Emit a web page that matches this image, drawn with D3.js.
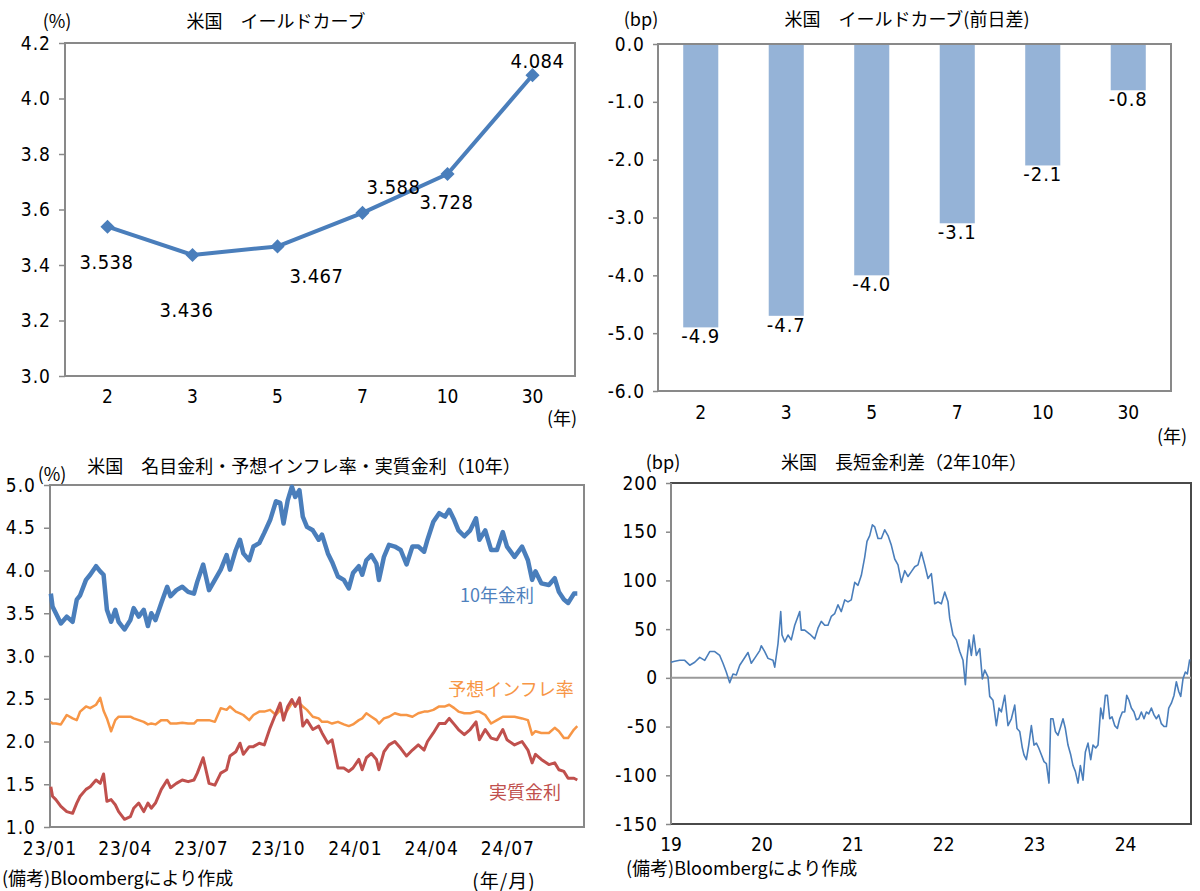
<!DOCTYPE html>
<html>
<head>
<meta charset="utf-8">
<script src="https://cdn.jsdelivr.net/npm/d3@7"></script>
<style>
  body { margin: 0; background: #fff; }
</style>
</head>
<body>
<svg id="canvas"></svg>
<script>
/* ---------- data ---------- */
const maturities = ["2", "3", "5", "7", "10", "30"];
const yields = [3.538, 3.436, 3.467, 3.588, 3.728, 4.084];
const dailyChange = [-4.9, -4.7, -4.0, -3.1, -2.1, -0.8];
const yieldTicks = [3.0, 3.2, 3.4, 3.6, 3.8, 4.0, 4.2];
const changeTicks = [0, -1, -2, -3, -4, -5, -6];

const rateDates = [
  "2023-01-02","2023-01-04","2023-01-08","2023-01-14","2023-01-21","2023-01-28","2023-02-02","2023-02-06",
  "2023-02-13","2023-02-18","2023-02-25","2023-03-02","2023-03-06","2023-03-10","2023-03-15","2023-03-20",
  "2023-03-24","2023-03-31","2023-04-07","2023-04-11","2023-04-17","2023-04-23","2023-04-28","2023-05-02",
  "2023-05-07","2023-05-14","2023-05-21","2023-05-25","2023-06-01","2023-06-08","2023-06-15","2023-06-22",
  "2023-06-26","2023-07-03","2023-07-10","2023-07-17","2023-07-24","2023-07-31","2023-08-04","2023-08-11",
  "2023-08-16","2023-08-20","2023-08-27","2023-09-01","2023-09-08","2023-09-14","2023-09-21","2023-09-28",
  "2023-10-03","2023-10-07","2023-10-12","2023-10-17","2023-10-21","2023-10-26","2023-10-30","2023-11-04",
  "2023-11-11","2023-11-18","2023-11-22","2023-11-29","2023-12-04","2023-12-11","2023-12-18","2023-12-24",
  "2023-12-29","2024-01-05","2024-01-09","2024-01-14","2024-01-20","2024-01-26","2024-01-29","2024-02-04",
  "2024-02-10","2024-02-17","2024-02-24","2024-03-02","2024-03-09","2024-03-16","2024-03-23","2024-03-27",
  "2024-04-03","2024-04-10","2024-04-17","2024-04-22","2024-04-28","2024-05-03","2024-05-10","2024-05-17",
  "2024-05-24","2024-05-28","2024-06-04","2024-06-11","2024-06-18","2024-06-25","2024-06-30","2024-07-09",
  "2024-07-18","2024-07-25","2024-07-30","2024-08-03","2024-08-10","2024-08-19","2024-08-26","2024-08-31",
  "2024-09-06","2024-09-11","2024-09-18","2024-09-22"
];
const nominal10y = [
  3.73,3.58,3.50,3.38,3.46,3.40,3.66,3.71,3.89,3.95,4.05,3.99,3.95,3.54,3.40,3.54,
  3.40,3.31,3.42,3.56,3.46,3.54,3.35,3.50,3.42,3.62,3.81,3.70,3.77,3.81,3.75,3.73,
  3.87,4.07,3.77,3.89,4.01,4.18,4.01,4.24,4.36,4.20,4.12,4.28,4.32,4.44,4.59,4.81,
  4.79,4.55,4.82,4.98,4.86,4.94,4.63,4.51,4.47,4.36,4.42,4.20,4.10,3.93,3.89,3.79,
  3.97,4.05,3.95,4.12,4.18,4.08,3.89,4.16,4.30,4.28,4.24,4.07,4.28,4.28,4.22,4.36,
  4.57,4.67,4.63,4.71,4.59,4.47,4.40,4.47,4.61,4.36,4.47,4.24,4.24,4.45,4.28,4.16,
  4.28,4.12,3.89,3.99,3.85,3.83,3.91,3.75,3.66,3.62,3.73,3.73
];
const breakeven10y = [
  2.23,2.21,2.21,2.20,2.31,2.27,2.25,2.35,2.41,2.39,2.43,2.51,2.36,2.27,2.12,2.25,
  2.29,2.29,2.29,2.27,2.25,2.23,2.20,2.21,2.20,2.25,2.25,2.21,2.21,2.22,2.21,2.21,
  2.25,2.25,2.25,2.23,2.39,2.37,2.41,2.35,2.33,2.31,2.25,2.31,2.35,2.35,2.37,2.31,
  2.37,2.31,2.37,2.45,2.43,2.45,2.41,2.37,2.29,2.27,2.23,2.23,2.21,2.23,2.20,2.18,
  2.20,2.25,2.27,2.33,2.29,2.25,2.21,2.27,2.29,2.33,2.31,2.31,2.29,2.33,2.35,2.35,
  2.37,2.41,2.41,2.43,2.39,2.35,2.33,2.33,2.35,2.35,2.31,2.21,2.25,2.29,2.29,2.29,
  2.27,2.25,2.08,2.12,2.10,2.10,2.16,2.12,2.04,2.04,2.14,2.18
];
const real10y = [
  1.47,1.36,1.32,1.24,1.18,1.16,1.28,1.36,1.44,1.47,1.55,1.51,1.62,1.30,1.32,1.26,
  1.18,1.09,1.12,1.22,1.28,1.18,1.28,1.22,1.28,1.44,1.55,1.46,1.51,1.55,1.53,1.55,
  1.63,1.81,1.51,1.49,1.63,1.67,1.83,1.88,1.98,1.85,1.94,1.94,1.98,1.96,2.16,2.33,
  2.45,2.25,2.41,2.49,2.41,2.51,2.18,2.25,2.14,2.18,2.10,1.98,2.02,1.69,1.69,1.65,
  1.69,1.79,1.67,1.81,1.86,1.79,1.67,1.88,1.96,2.00,1.92,1.83,1.90,1.96,1.90,2.00,
  2.10,2.21,2.21,2.27,2.20,2.14,2.08,2.14,2.23,2.02,2.14,2.04,2.02,2.14,2.02,1.96,
  2.00,1.90,1.75,1.85,1.79,1.73,1.75,1.67,1.65,1.57,1.57,1.55
];
const rateTicks = [1.0, 1.5, 2.0, 2.5, 3.0, 3.5, 4.0, 4.5, 5.0];

const spreadYears = [
  2019.000,2019.041,2019.096,2019.151,2019.206,2019.261,2019.316,2019.371,2019.426,2019.481,
  2019.536,2019.572,2019.608,2019.646,2019.682,2019.718,2019.756,2019.792,2019.847,2019.883,
  2019.927,2019.976,2019.993,2020.031,2020.067,2020.122,2020.141,2020.177,2020.207,2020.221,
  2020.251,2020.287,2020.323,2020.361,2020.416,2020.433,2020.471,2020.526,2020.581,2020.617,
  2020.653,2020.691,2020.727,2020.763,2020.801,2020.837,2020.873,2020.911,2020.947,2020.983,
  2021.021,2021.057,2021.093,2021.131,2021.156,2021.186,2021.215,2021.241,2021.277,2021.314,
  2021.351,2021.387,2021.424,2021.461,2021.497,2021.534,2021.571,2021.607,2021.644,2021.681,
  2021.717,2021.754,2021.791,2021.827,2021.864,2021.901,2021.937,2021.974,2022.011,2022.047,
  2022.066,2022.102,2022.139,2022.176,2022.212,2022.238,2022.256,2022.278,2022.304,2022.330,
  2022.359,2022.396,2022.425,2022.451,2022.487,2022.506,2022.542,2022.579,2022.608,2022.634,
  2022.671,2022.707,2022.744,2022.781,2022.806,2022.836,2022.865,2022.883,2022.909,2022.935,
  2022.964,2022.993,2023.019,2023.045,2023.074,2023.103,2023.129,2023.158,2023.177,2023.202,
  2023.228,2023.257,2023.287,2023.312,2023.338,2023.367,2023.397,2023.422,2023.448,2023.477,
  2023.503,2023.532,2023.558,2023.587,2023.617,2023.642,2023.672,2023.697,2023.727,2023.752,
  2023.778,2023.800,2023.826,2023.851,2023.881,2023.910,2023.936,2023.965,2023.991,2024.013,
  2024.038,2024.064,2024.093,2024.119,2024.145,2024.174,2024.203,2024.229,2024.255,2024.284,
  2024.313,2024.339,2024.365,2024.394,2024.423,2024.449,2024.475,2024.504,2024.533,2024.559,
  2024.585,2024.607,2024.632,2024.658,2024.680,2024.706
];
const spreadBp = [
  16,17,18,18,13,16,21,18,27,27,
  23,15,6,-5,4,3,13,18,26,15,
  21,28,33,27,20,18,11,35,68,44,
  37,44,39,54,68,49,49,45,40,51,
  58,54,54,63,66,75,68,80,78,80,
  98,95,105,124,140,146,157,155,143,143,
  152,146,136,122,116,98,110,104,109,114,
  116,129,116,102,107,76,78,76,88,78,
  61,44,39,27,18,-7,20,39,23,44,
  23,30,-1,8,1,-19,-23,-49,-31,-35,
  -18,-49,-42,-28,-52,-55,-72,-79,-84,-69,
  -49,-69,-67,-72,-79,-86,-88,-108,-42,-42,
  -55,-59,-50,-42,-52,-69,-79,-90,-96,-108,
  -90,-105,-76,-67,-84,-69,-72,-69,-31,-42,
  -18,-18,-42,-40,-49,-52,-42,-35,-35,-18,
  -23,-31,-35,-43,-42,-35,-42,-35,-37,-31,
  -38,-42,-38,-47,-50,-50,-31,-26,-18,-4,
  -14,-19,-1,6,4,19
];
const spreadTicks = [200, 150, 100, 50, 0, -50, -100, -150];
const spreadYearTicks = [2019, 2020, 2021, 2022, 2023, 2024];

/* ---------- setup ---------- */
const width = 1200, height = 891;
const axisGray = "#898989";
const numFont = "'Liberation Sans Narrow','DejaVu Sans Condensed',sans-serif";
const jpFont = "'Noto Sans CJK JP','Noto Sans',sans-serif";
const parseDate = d3.timeParse("%Y-%m-%d");

const svg = d3.select("#canvas")
    .attr("width", width)
    .attr("height", height)
    .style("background-color", "#fff");

function text(g, x, y, str, o = {}) {
  return g.append("text")
      .attr("x", x).attr("y", y)
      .attr("text-anchor", o.anchor || "middle")
      .attr("dominant-baseline", "central")
      .attr("font-family", o.font || jpFont)
      .attr("font-size", o.size || 18)
      .attr("letter-spacing", o.ls || 0)
      .attr("fill", o.color || "#000")
      .text(str);
}

function frame(g, p, color, w) {
  g.append("rect")
      .attr("x", p.l).attr("y", p.t)
      .attr("width", p.r - p.l).attr("height", p.b - p.t)
      .attr("fill", "none")
      .attr("stroke", color)
      .attr("stroke-width", w);
}

function leftAxis(g, scale, ticks, fmt, x, tick) {
  g.append("g")
      .attr("transform", `translate(${x},0)`)
      .call(d3.axisLeft(scale).tickValues(ticks).tickFormat(fmt).tickSize(tick).tickPadding(8))
      .call(a => a.select(".domain").remove())
      .call(a => a.selectAll("line").attr("stroke", axisGray).attr("stroke-width", 1.5))
      .call(a => a.selectAll("text")
          .attr("font-family", numFont)
          .attr("font-size", 19)
          .attr("letter-spacing", 1)
          .attr("fill", "#000"));
}

const fmt1 = d => d.toFixed(1);

/* ---------- chart 1 : yield curve ---------- */
const p1 = {l: 65, r: 575, t: 43, b: 376};
const g1 = svg.append("g");
const x1 = d3.scalePoint().domain(maturities).range([p1.l, p1.r]).padding(0.5);
const y1 = d3.scaleLinear().domain([3.0, 4.2]).range([p1.b, p1.t]);
const curve = maturities.map((m, i) => ({m, v: yields[i]}));
const labelNudge = [[-1, 35], [-6, 55], [39, 30], [31, -26], [-1, 28], [5, -14]];

frame(g1, p1, axisGray, 2);
leftAxis(g1, y1, yieldTicks, fmt1, p1.l, 6);

g1.append("path")
    .datum(curve)
    .attr("d", d3.line().x(d => x1(d.m)).y(d => y1(d.v)))
    .attr("fill", "none")
    .attr("stroke", "#4A7EBB")
    .attr("stroke-width", 4)
    .attr("stroke-linejoin", "round");

g1.selectAll("path.mark")
    .data(curve)
    .enter()
    .append("path")
    .classed("mark", true)
    .attr("d", d3.symbol(d3.symbolSquare, 100))
    .attr("transform", d => `translate(${x1(d.m)},${y1(d.v)}) rotate(45)`)
    .attr("fill", "#4A7EBB");

curve.forEach((d, i) =>
  text(g1, x1(d.m) + labelNudge[i][0], y1(d.v) + labelNudge[i][1], d.v.toFixed(3),
       {font: numFont, size: 20, ls: 0.5}));

maturities.forEach(m => text(g1, x1(m), 396, m, {font: numFont, size: 19}));
text(g1, 276, 20, "米国　イールドカーブ");
text(g1, 57, 20, "(%)");
text(g1, 562, 417, "(年)");

/* ---------- chart 2 : daily change ---------- */
const p2 = {l: 658, r: 1171, t: 44, b: 391};
const g2 = svg.append("g");
const x2 = d3.scaleBand().domain(maturities).range([p2.l, p2.r]).paddingInner(0.59).paddingOuter(0.295);
const y2 = d3.scaleLinear().domain([-6, 0]).range([p2.b, p2.t]);
const bars = maturities.map((m, i) => ({m, v: dailyChange[i]}));

g2.selectAll("rect.bar")
    .data(bars)
    .enter()
    .append("rect")
    .classed("bar", true)
    .attr("x", d => x2(d.m))
    .attr("y", y2(0))
    .attr("width", x2.bandwidth())
    .attr("height", d => y2(d.v) - y2(0))
    .attr("fill", "#95B3D7");

frame(g2, p2, axisGray, 2);
leftAxis(g2, y2, changeTicks, fmt1, p2.l, 5);

bars.forEach(d =>
  text(g2, x2(d.m) + x2.bandwidth() / 2, y2(d.v) + 9, d.v.toFixed(1),
       {font: numFont, size: 20, ls: 1}));

maturities.forEach(m => text(g2, x2(m) + x2.bandwidth() / 2, 412, m, {font: numFont, size: 19}));
text(g2, 907, 18, "米国　イールドカーブ(前日差)");
text(g2, 641, 18, "(bp)");
text(g2, 1172, 435, "(年)");

/* ---------- chart 3 : nominal / breakeven / real ---------- */
const p3 = {l: 50, r: 584, t: 485, b: 827};
const g3 = svg.append("g");
const x3 = d3.scaleTime().domain([parseDate("2023-01-01"), parseDate("2024-09-30")]).range([p3.l, p3.r]);
const y3 = d3.scaleLinear().domain([1.0, 5.0]).range([p3.b, p3.t]);
const rows = rateDates.map((d, i) => ({
  date: parseDate(d), nom: nominal10y[i], bei: breakeven10y[i], real: real10y[i]
}));

frame(g3, p3, axisGray, 2);
leftAxis(g3, y3, rateTicks, fmt1, p3.l, 6);

const series3 = [
  {key: "bei", color: "#F79646", w: 2.5},
  {key: "real", color: "#C0504D", w: 3},
  {key: "nom", color: "#4A7EBB", w: 4.5}
];
series3.forEach(s => {
  g3.append("path")
      .datum(rows)
      .attr("d", d3.line().x(d => x3(d.date)).y(d => y3(d[s.key])))
      .attr("fill", "none")
      .attr("stroke", s.color)
      .attr("stroke-width", s.w)
      .attr("stroke-linejoin", "round");
});

x3.ticks(d3.timeMonth.every(3)).forEach(t =>
  text(g3, x3(t), 848, d3.timeFormat("%y/%m")(t), {font: numFont, size: 19, ls: 1}));

text(g3, 497, 594, "10年金利", {color: "#4F81BD"});
text(g3, 511, 688, "予想インフレ率", {color: "#F79646"});
text(g3, 525, 791, "実質金利", {color: "#C0504D"});
text(g3, 304, 465, "米国　名目金利・予想インフレ率・実質金利（10年）");
text(g3, 52, 473, "(%)");
text(g3, 2, 877, "(備考)Bloombergにより作成", {anchor: "start"});
text(g3, 504, 879, "(年/月)", {size: 19, ls: 1});

/* ---------- chart 4 : 2s10s spread ---------- */
const p4 = {l: 671, r: 1191, t: 483, b: 824};
const g4 = svg.append("g");
const x4 = d3.scaleLinear().domain([2019, 2024.72]).range([p4.l, p4.r]);
const y4 = d3.scaleLinear().domain([-150, 200]).range([p4.b, p4.t]);
const spread = spreadYears.map((t, i) => ({t, v: spreadBp[i]}));

frame(g4, p4, "#4a4a4a", 2);
g4.append("line")
    .attr("x1", p4.l).attr("x2", p4.l)
    .attr("y1", p4.t).attr("y2", p4.b)
    .attr("stroke", axisGray).attr("stroke-width", 2);
leftAxis(g4, y4, spreadTicks, d => String(d), p4.l, 5);

g4.append("line")
    .attr("x1", p4.l).attr("x2", p4.r)
    .attr("y1", y4(0)).attr("y2", y4(0))
    .attr("stroke", "#9a9a9a")
    .attr("stroke-width", 2);

g4.append("path")
    .datum(spread)
    .attr("d", d3.line().x(d => x4(d.t)).y(d => y4(d.v)))
    .attr("fill", "none")
    .attr("stroke", "#4A7EBB")
    .attr("stroke-width", 1.6)
    .attr("stroke-linejoin", "round");

spreadYearTicks.forEach(t =>
  text(g4, x4(t), 844, String(t).slice(2), {font: numFont, size: 19}));

text(g4, 904, 461, "米国　長短金利差（2年10年）");
text(g4, 663, 461, "(bp)");
text(g4, 626, 867, "(備考)Bloombergにより作成", {anchor: "start"});
</script>
</body>
</html>
